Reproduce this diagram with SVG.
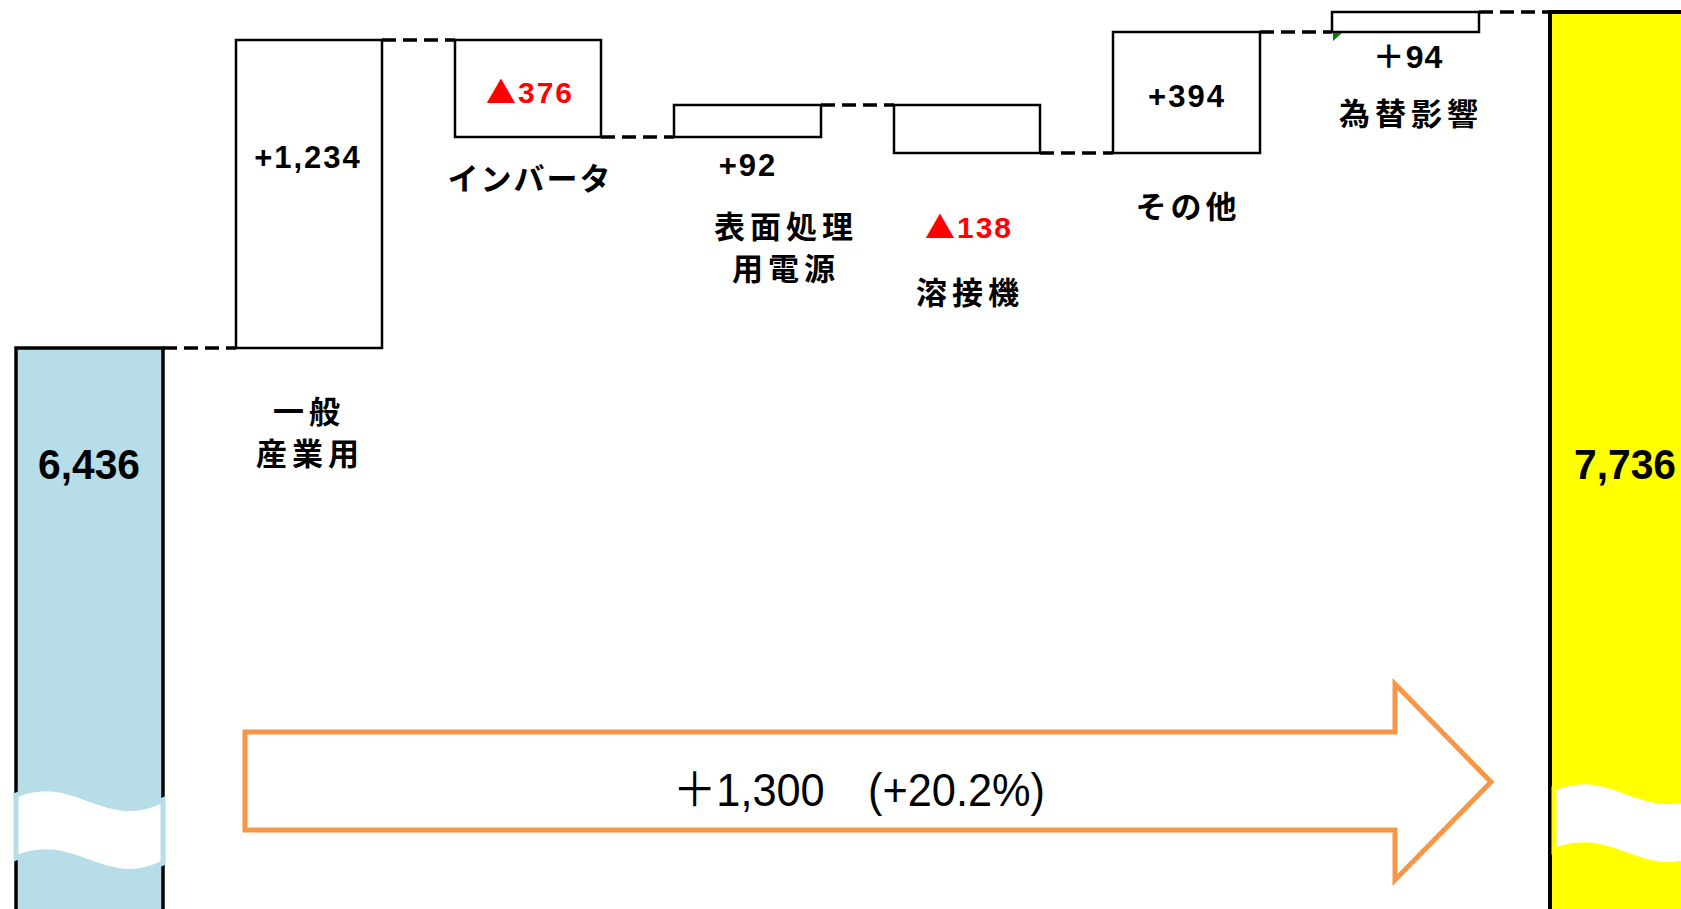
<svg xmlns="http://www.w3.org/2000/svg" width="1681" height="909" viewBox="0 0 1681 909">
<style>
.box{fill:#fff;stroke:#000;stroke-width:2.5}
.dash{stroke:#000;stroke-width:3.5;stroke-dasharray:14 7;fill:none}
.num{font-family:"Liberation Sans","Noto Sans CJK JP",sans-serif;font-weight:bold;text-anchor:middle;fill:#000}
.red{fill:#ff0000}
.tri{font-family:"Noto Sans CJK JP",sans-serif}
.jp{font-family:"Noto Sans CJK JP","Noto Sans CJK SC",sans-serif;font-weight:bold;font-size:31px;text-anchor:middle;fill:#000}
</style>
<rect width="1681" height="909" fill="#fff"/>
<g id="start">
<rect x="16" y="348" width="147" height="600" fill="#B7DEE8" stroke="#000" stroke-width="3.5"/>
<path d="M16,795 C75,770 105,830 163,800 L163,863 C105,893 75,833 16,858 Z" fill="#fff" stroke="#B7DEE8" stroke-width="5"/>
<text class="num" x="89" y="479" font-size="43" textLength="102" lengthAdjust="spacingAndGlyphs">6,436</text>
</g>
<g id="end">
<rect x="1550" y="12" width="200" height="940" fill="#FFFF00" stroke="#000" stroke-width="4"/>
<path d="M1554,788 C1613,763 1643,823 1701,793 L1701,856 C1643,886 1613,826 1554,851 Z" fill="#fff" stroke="#FFFF00" stroke-width="5"/>
<text class="num" x="1625" y="479" font-size="43" textLength="102" lengthAdjust="spacingAndGlyphs">7,736</text>
</g>
<g id="connectors">
<line class="dash" x1="163" y1="348" x2="236" y2="348"/>
<line class="dash" x1="382" y1="40" x2="455" y2="40"/>
<line class="dash" x1="601" y1="137" x2="674" y2="137"/>
<line class="dash" x1="821" y1="105" x2="894" y2="105"/>
<line class="dash" x1="1040" y1="153" x2="1113" y2="153"/>
<line class="dash" x1="1260" y1="32" x2="1332" y2="32"/>
<line class="dash" x1="1479" y1="12" x2="1550" y2="12"/>
</g>
<g id="general">
<rect class="box" x="236" y="40" width="146" height="308"/>
<text class="num" x="308" y="168" font-size="31" letter-spacing="2">+1,234</text>
<text class="jp" x="309" y="423" letter-spacing="5">一般</text>
<text class="jp" x="310" y="465" letter-spacing="5">産業用</text>
</g>
<g id="inverter">
<rect class="box" x="455" y="40" width="146" height="97"/>
<text class="num red" x="530" y="103" font-size="30" letter-spacing="2"><tspan class="tri">▲</tspan>376</text>
<text class="jp" x="530" y="190" font-size="30" letter-spacing="2">インバータ</text>
</g>
<g id="surface">
<rect class="box" x="674" y="105" width="147" height="32"/>
<text class="num" x="748" y="176" font-size="31" letter-spacing="2">+92</text>
<text class="jp" x="786" y="238" letter-spacing="5">表面処理</text>
<text class="jp" x="786" y="280" letter-spacing="5">用電源</text>
</g>
<g id="welding">
<rect class="box" x="894" y="105" width="146" height="48"/>
<text class="num red" x="969" y="238" font-size="30" letter-spacing="2"><tspan class="tri">▲</tspan>138</text>
<text class="jp" x="970" y="304" letter-spacing="5">溶接機</text>
</g>
<g id="other">
<rect class="box" x="1113" y="32" width="147" height="121"/>
<text class="num" x="1187" y="107" font-size="31" letter-spacing="2">+394</text>
<text class="jp" x="1188" y="218" letter-spacing="4">その他</text>
</g>
<g id="fx">
<rect class="box" x="1332" y="12" width="147" height="20"/>
<polygon points="1333,33 1342,33 1333,41" fill="#008000"/>
<text class="num" x="1408" y="68" font-size="32" letter-spacing="1">＋94</text>
<text class="jp" x="1411" y="125" letter-spacing="5">為替影響</text>
</g>
<g id="total-arrow">
<polygon points="245,732 1395,732 1395,684 1491,782 1395,880 1395,830 245,830" fill="#fff" stroke="#F79646" stroke-width="5"/>
<text x="673" y="806" font-family="Liberation Sans,'Noto Sans CJK JP',sans-serif" font-size="47" fill="#000" textLength="372" lengthAdjust="spacingAndGlyphs">＋1,300　(+20.2%)</text>
</g>
</svg>
